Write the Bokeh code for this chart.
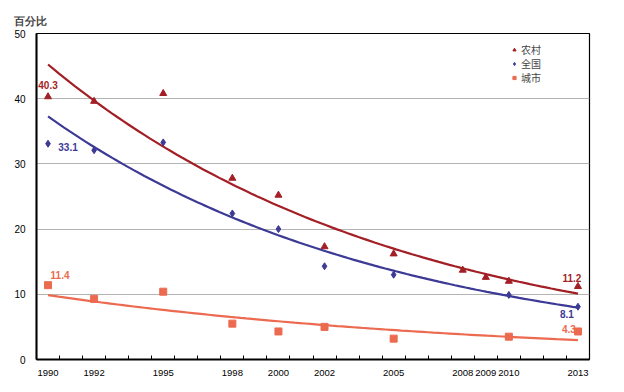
import numpy as np
from bokeh.plotting import figure
from bokeh.models import FixedTicker, Label, Range1d, Legend, LegendItem
from bokeh.embed import file_html
from bokeh.resources import INLINE

years_rural = [1990, 1992, 1995, 1998, 2000, 2002, 2005, 2008, 2009, 2010, 2013]
rural = [40.3, 39.6, 40.8, 27.8, 25.2, 17.3, 16.2, 13.7, 12.6, 12.0, 11.2]
years_nat = [1990, 1992, 1995, 1998, 2000, 2002, 2005, 2010, 2013]
national = [33.1, 32.1, 33.3, 22.4, 20.0, 14.3, 13.0, 9.9, 8.1]
years_urb = [1990, 1992, 1995, 1998, 2000, 2002, 2005, 2010, 2013]
urban = [11.4, 9.3, 10.4, 5.5, 4.3, 5.0, 3.2, 3.5, 4.3]
tick_years = [1990, 1992, 1995, 1998, 2000, 2002, 2005, 2008, 2009, 2010, 2013]
y_ticks = [0, 10, 20, 30, 40, 50]
series_names = ["农村", "全国", "城市"]

C_RURAL = "#a31f26"
C_NAT = "#3d3a96"
C_URB = "#ec6a50"
FONT = "Liberation Sans"

p = figure(width=616, height=384, output_backend="svg", toolbar_location=None,
           x_range=Range1d(1989.5, 2013.5), y_range=Range1d(0, 50),
           min_border_left=36, min_border_top=33, min_border_right=27, min_border_bottom=25)
p.outline_line_color = "black"
p.outline_line_width = 1.2
p.outline_line_alpha = 1.0
p.background_fill_color = "white"
p.border_fill_color = "white"

p.title.text = "百分比"
p.title.align = "left"
p.title.offset = -23
p.title.text_font = "Liberation Sans"
p.title.text_font_size = "10.5px"
p.title.text_font_style = "bold"
p.title.text_line_height = 0.6
p.title.standoff = 14

p.xaxis.ticker = FixedTicker(ticks=tick_years, minor_ticks=[y + 0.5 for y in range(1990, 2013)])
p.xaxis.major_tick_line_color = None
p.xaxis.minor_tick_in = 4
p.xaxis.minor_tick_out = 0
p.xaxis.minor_tick_line_color = "black"
p.xaxis.axis_line_color = "black"
p.xaxis.axis_line_width = 2
p.xaxis.major_label_text_font = FONT
p.xaxis.major_label_text_font_size = "9.5px"
p.xaxis.major_label_text_color = "black"
p.xaxis.major_label_standoff = 4

p.yaxis.ticker = FixedTicker(ticks=y_ticks)
p.yaxis.major_tick_line_color = None
p.yaxis.minor_tick_line_color = None
p.yaxis.axis_line_color = "black"
p.yaxis.axis_line_width = 2
p.yaxis.major_label_text_font = FONT
p.yaxis.major_label_text_font_size = "10px"
p.yaxis.major_label_text_color = "black"
p.yaxis.major_label_standoff = 5

p.xgrid.grid_line_color = None
p.ygrid.grid_line_color = "#b4b4b4"
p.ygrid.grid_line_width = 1
p.ygrid.ticker = FixedTicker(ticks=[10, 20, 30, 40])

xs = np.linspace(1990, 2013, 100)


def fit(years, vals):
    b, a = np.polyfit(np.array(years) - 1990, np.log(vals), 1)
    return np.exp(a + b * (xs - 1990))


p.line(xs, fit(years_rural, rural), line_color=C_RURAL, line_width=2.2)
p.line(xs, fit(years_nat, national), line_color=C_NAT, line_width=2.2)
p.line(xs, fit(years_urb, urban), line_color=C_URB, line_width=2.2)

r1 = p.scatter(years_rural, rural, marker="triangle", size=7, color=C_RURAL)
r2 = p.scatter(years_nat, national, marker="diamond", size=7, color=C_NAT)
r3 = p.scatter(years_urb, urban, marker="square", size=7, color=C_URB)

for name, r, ly in zip(series_names, [r1, r2, r3], [302, 288, 274]):
    lg = Legend(items=[LegendItem(label=name, renderers=[r])],
                location=(474, ly), border_line_color=None, background_fill_alpha=0,
                label_text_font="Noto Sans CJK SC", label_text_font_size="10px",
                glyph_width=8, glyph_height=9, label_standoff=3, spacing=0, padding=0,
                margin=0, label_height=9)
    p.add_layout(lg)


def lab(x, y, t, color, xo, yo):
    p.add_layout(Label(x=x, y=y, text=t, text_color=color, x_offset=xo, y_offset=yo,
                       text_font=FONT, text_font_size="10px", text_font_style="bold",
                       text_align="center", text_baseline="middle"))


lab(1990, 40.3, "40.3", C_RURAL, 0, 12)
lab(1990, 33.1, "33.1", C_NAT, 20, -3)
lab(1990, 11.4, "11.4", C_URB, 12, 10)
lab(2013, 11.2, "11.2", C_RURAL, -6, 8)
lab(2013, 8.1, "8.1", C_NAT, -11, -7)
lab(2013, 4.3, "4.3", C_URB, -9, 2)

open("out.html", "w").write(file_html(p, INLINE))
